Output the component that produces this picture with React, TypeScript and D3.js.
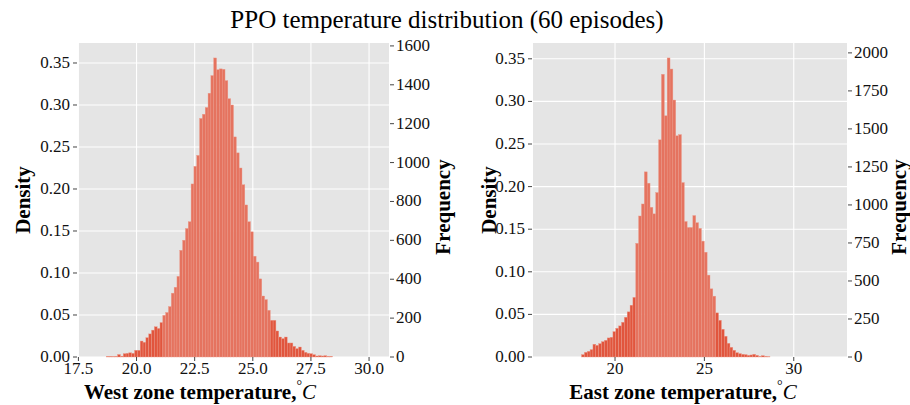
import React from 'react';
import * as d3 from 'd3';

const chartTitle = 'PPO temperature distribution (60 episodes)';
const binCount = 100;

// West zone histogram (density per bin, starting at bin index westFirstBin)
const westBinStart = 18.09;
const westBinWidth = 0.1216;
const westFirstBin = 5;
const westDensity = [
  0.0008, 0.0008, 0.0006, 0.0008, 0.003, 0.001, 0.004, 0.0044, 0.005, 0.0044,
  0.008, 0.008, 0.019, 0.0175, 0.023, 0.0275, 0.032, 0.036, 0.034, 0.041,
  0.0496, 0.053, 0.06, 0.076, 0.083, 0.096, 0.127, 0.139, 0.153, 0.161,
  0.206, 0.227, 0.24, 0.284, 0.289, 0.297, 0.314, 0.335, 0.356, 0.342,
  0.343, 0.3425, 0.329, 0.3075, 0.3, 0.262, 0.243, 0.225, 0.205, 0.181,
  0.161, 0.149, 0.12, 0.113, 0.093, 0.0726, 0.0683, 0.0556, 0.0437, 0.0437,
  0.031, 0.0238, 0.0219, 0.0238, 0.0167, 0.0167, 0.0127, 0.01, 0.0119, 0.008,
  0.0056, 0.0044, 0.004, 0.0028, 0.0012, 0.0016, 0.0012, 0.0016, 0.0008, 0.0008,
];
const westXTicks = [17.5, 20, 22.5, 25, 27.5, 30];
const westDensityTicks = [0, 0.05, 0.1, 0.15, 0.2, 0.25, 0.3, 0.35];
const westCountTicks = [0, 200, 400, 600, 800, 1000, 1200, 1400, 1600];
const westCountMax = 1615;

// East zone histogram
const eastBinStart = 16.21;
const eastBinWidth = 0.1597;
const eastFirstBin = 12;
const eastDensity = [
  0.0028, 0.0055, 0.0067, 0.0087, 0.015, 0.0137, 0.0157, 0.018, 0.0196, 0.0224,
  0.0232, 0.0298, 0.0337, 0.0365, 0.0408, 0.0467, 0.053, 0.0608, 0.07, 0.1334,
  0.1655, 0.1796, 0.2173, 0.204, 0.1757, 0.168, 0.193, 0.2549, 0.3318, 0.2831,
  0.351, 0.338, 0.3016, 0.2596, 0.261, 0.2047, 0.159, 0.152, 0.152, 0.166,
  0.1576, 0.151, 0.136, 0.123, 0.0961, 0.08, 0.0714, 0.0518, 0.0431, 0.0326,
  0.0244, 0.0161, 0.0114, 0.0079, 0.0051, 0.004, 0.0032, 0.0028, 0.002, 0.0024,
  0.0032, 0.002, 0.0008, 0.0016, 0.0008, 0.0004,
];
const eastXTicks = [20, 25, 30];
const eastDensityTicks = [0, 0.05, 0.1, 0.15, 0.2, 0.25, 0.3, 0.35];
const eastCountTicks = [0, 250, 500, 750, 1000, 1250, 1500, 1750, 2000];
const eastCountMax = 2065;

const FONT = '"Liberation Serif", "Times New Roman", Times, serif';
const BG = '#E5E5E5';
const BAR = '#E5735F';
const BAR_TAIL = '#E1553D';
const BAR_EDGE = '#EC9A8A';
const TICK = '#444';
const TICK_FS = 17;
const LABEL_FS = 21;

type PanelProps = {
  binStart: number;
  binWidth: number;
  firstBin: number;
  density: number[];
  xTicks: number[];
  xFmt: (v: number) => string;
  densityTicks: number[];
  countTicks: number[];
  countMax: number;
  left: number;
  right: number;
  top: number;
  bottom: number;
  tailThreshold: number;
  xLabel: string;
  xLabelX: number;
  densityLabelX: number;
  freqLabelX: number;
  freqLabelY: number;
};

function Panel(p: PanelProps) {
  const dataEnd = p.binStart + binCount * p.binWidth;
  const range = dataEnd - p.binStart;
  const x = d3
    .scaleLinear()
    .domain([p.binStart - 0.05 * range, dataEnd + 0.05 * range])
    .range([p.left, p.right]);
  const maxD = d3.max(p.density) as number;
  const y = d3.scaleLinear().domain([0, maxD * 1.05]).range([p.bottom, p.top]);
  const yc = d3.scaleLinear().domain([0, p.countMax]).range([p.bottom, p.top]);
  const fmtD = d3.format('.2f');

  const bins = p.density.map((d, k) => {
    const i = p.firstBin + k;
    return { x0: p.binStart + i * p.binWidth, x1: p.binStart + (i + 1) * p.binWidth, d };
  });

  return (
    <g>
      <rect x={p.left} y={p.top} width={p.right - p.left} height={p.bottom - p.top} fill={BG} />
      {p.xTicks.map((t) => (
        <line key={'gx' + t} x1={x(t)} x2={x(t)} y1={p.top} y2={p.bottom} stroke="#fff" strokeWidth={1.1} />
      ))}
      {p.densityTicks.map((t) => (
        <line key={'gy' + t} x1={p.left} x2={p.right} y1={y(t)} y2={y(t)} stroke="#fff" strokeWidth={1.1} />
      ))}
      {bins.map((b, k) => (
        <rect
          key={'b' + k}
          x={x(b.x0)}
          y={y(b.d)}
          width={x(b.x1) - x(b.x0)}
          height={p.bottom - y(b.d)}
          fill={b.d < p.tailThreshold ? BAR_TAIL : BAR}
          stroke={BAR_EDGE}
          strokeWidth={0.4}
        />
      ))}
      {p.xTicks.map((t) => (
        <g key={'tx' + t}>
          <line x1={x(t)} x2={x(t)} y1={p.bottom} y2={p.bottom + 4} stroke={TICK} strokeWidth={1} />
          <text x={x(t)} y={p.bottom + 17} textAnchor="middle" fontSize={TICK_FS} fontFamily={FONT} fill="#111">
            {p.xFmt(t)}
          </text>
        </g>
      ))}
      {p.densityTicks.map((t) => (
        <g key={'ty' + t}>
          <line x1={p.left - 5} x2={p.left - 1} y1={y(t)} y2={y(t)} stroke={TICK} strokeWidth={1} />
          <text x={p.left - 8} y={y(t) + 5} textAnchor="end" fontSize={TICK_FS} fontFamily={FONT} fill="#111">
            {fmtD(t)}
          </text>
        </g>
      ))}
      {p.countTicks.map((t) => (
        <g key={'tc' + t}>
          <line x1={p.right + 1} x2={p.right + 5} y1={yc(t)} y2={yc(t)} stroke={TICK} strokeWidth={1} />
          <text x={p.right + 7} y={yc(t) + 5} textAnchor="start" fontSize={TICK_FS} fontFamily={FONT} fill="#111">
            {String(t)}
          </text>
        </g>
      ))}
      <text
        transform={`translate(${p.densityLabelX},${(p.top + p.bottom) / 2}) rotate(-90)`}
        textAnchor="middle"
        fontSize={LABEL_FS}
        fontWeight="bold"
        fontFamily={FONT}
        fill="#000"
      >
        Density
      </text>
      <text
        transform={`translate(${p.freqLabelX},${p.freqLabelY}) rotate(-90)`}
        textAnchor="middle"
        fontSize={LABEL_FS}
        fontWeight="bold"
        fontFamily={FONT}
        fill="#000"
      >
        Frequency
      </text>
      <text x={p.xLabelX} y={p.bottom + 42} textAnchor="middle" fontSize={LABEL_FS} fontFamily={FONT} fill="#000">
        <tspan fontWeight="bold">{p.xLabel}</tspan>
        <tspan fontSize={14} dy={-9}>°</tspan>
        <tspan fontStyle="italic" dy={9}>C</tspan>
      </text>
    </g>
  );
}

export default function App() {
  const top = 43;
  const bottom = 357;
  return (
    <svg width={910} height={405} style={{ display: 'block', position: 'absolute', left: 0, top: 0 }}>
      <rect x={0} y={0} width={910} height={405} fill="#fff" />
      <text x={447} y={28} textAnchor="middle" fontSize={25} fontFamily={FONT} fill="#000">
        {chartTitle}
      </text>
      <Panel
        binStart={westBinStart}
        binWidth={westBinWidth}
        firstBin={westFirstBin}
        density={westDensity}
        xTicks={westXTicks}
        xFmt={d3.format('.1f')}
        densityTicks={westDensityTicks}
        countTicks={westCountTicks}
        countMax={westCountMax}
        left={78}
        right={389}
        top={top}
        bottom={bottom}
        tailThreshold={0.047}
        xLabel="West zone temperature,"
        xLabelX={200}
        densityLabelX={30}
        freqLabelX={450}
        freqLabelY={207}
      />
      <Panel
        binStart={eastBinStart}
        binWidth={eastBinWidth}
        firstBin={eastFirstBin}
        density={eastDensity}
        xTicks={eastXTicks}
        xFmt={d3.format('d')}
        densityTicks={eastDensityTicks}
        countTicks={eastCountTicks}
        countMax={eastCountMax}
        left={533}
        right={847}
        top={top}
        bottom={bottom}
        tailThreshold={0.0705}
        xLabel="East zone temperature,"
        xLabelX={683}
        densityLabelX={496}
        freqLabelX={906}
        freqLabelY={207}
      />
    </svg>
  );
}
